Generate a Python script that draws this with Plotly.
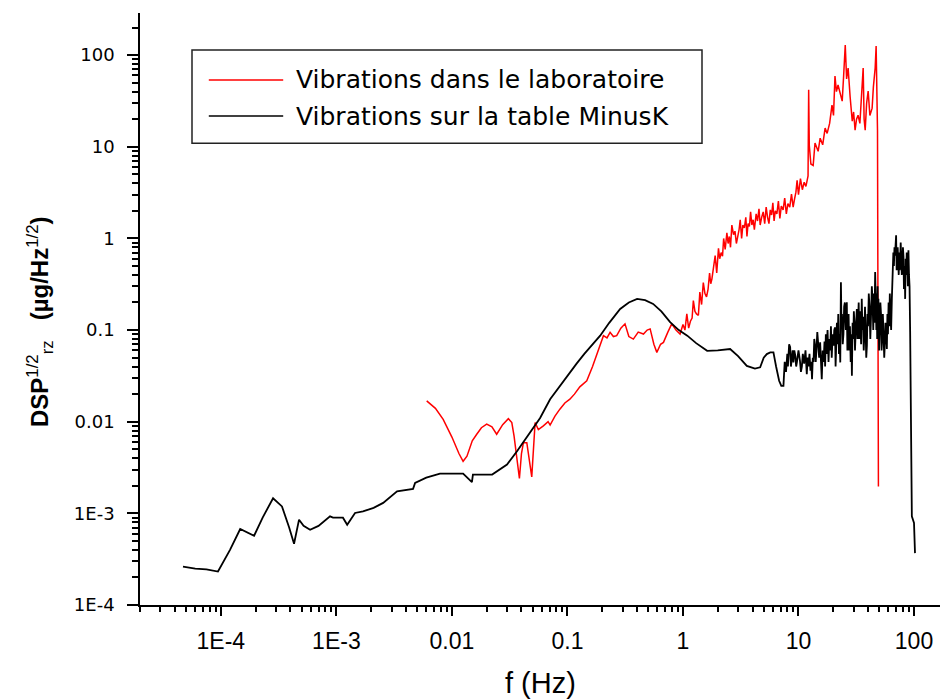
import plotly.graph_objects as go

# Rz acceleration spectral density measured on the laboratory floor
lab_freq = [
    0.00605, 0.0072, 0.0084, 0.0100, 0.0115, 0.0125, 0.0135, 0.0150, 0.0164, 0.0180,
    0.0200, 0.0222, 0.0244, 0.0275, 0.0308, 0.0330, 0.0345, 0.0365, 0.0384, 0.0400,
    0.0416, 0.0445, 0.0470, 0.0491, 0.0525, 0.0560, 0.0619, 0.0680, 0.0708, 0.078,
    0.086, 0.095, 0.105, 0.115, 0.128, 0.147, 0.165, 0.185, 0.205, 0.220,
    0.234, 0.250, 0.267, 0.290, 0.315, 0.340, 0.372, 0.410, 0.455, 0.490,
    0.520, 0.560, 0.594, 0.640, 0.678, 0.740, 0.800, 0.870, 0.944,
    1.00, 1.04, 1.08, 1.12, 1.16, 1.20, 1.23, 1.27, 1.31, 1.36,
    1.40, 1.45, 1.50, 1.55, 1.60, 1.65, 1.70, 1.74, 1.78, 1.84,
    1.90, 1.96, 2.03, 2.08, 2.14, 2.20, 2.25, 2.32, 2.40, 2.46,
    2.52, 2.58, 2.65, 2.74, 2.82, 2.90, 2.98, 3.06, 3.13, 3.22,
    3.30, 3.40, 3.50, 3.58, 3.66, 3.76, 3.85, 3.95, 4.05, 4.15,
    4.30, 4.42, 4.55, 4.66, 4.80, 4.95, 5.10, 5.25, 5.40, 5.55,
    5.70, 5.85, 6.00, 6.15, 6.30, 6.50, 6.70, 6.90, 7.10, 7.36,
    7.60, 7.85, 8.10, 8.40, 8.70, 8.99, 9.25, 9.50, 9.73, 10.0,
    10.4, 10.8, 11.2, 11.6, 12.1, 12.25, 12.4, 12.8, 13.4, 13.9,
    14.8, 15.4, 16.2, 17.0, 17.7, 18.6, 19.5, 20.1, 20.7, 21.3,
    22.0, 22.9, 23.9, 24.6, 25.4, 26.1, 26.9, 28.0, 29.2, 30.0,
    30.9, 31.8, 32.8, 34.0, 35.0, 36.3, 37.0, 37.8, 38.9, 40.1,
    41.5, 43.4, 44.5, 46.1, 47.0, 47.6, 48.3, 49.2,
]
lab_dsp = [
    0.0169, 0.0140, 0.0106, 0.0068, 0.0045, 0.0037, 0.0042, 0.0062, 0.0073, 0.0086,
    0.0094, 0.0088, 0.0073, 0.0093, 0.0108, 0.0098, 0.0070, 0.0040, 0.0024, 0.0045,
    0.0059, 0.0059, 0.0035, 0.0025, 0.0098, 0.0082, 0.0090, 0.0100, 0.0092, 0.0115,
    0.0137, 0.0160, 0.0176, 0.0200, 0.0240, 0.0279, 0.0400, 0.0600, 0.0869, 0.0820,
    0.0946, 0.0850, 0.0869, 0.1050, 0.1170, 0.0850, 0.0798, 0.0950, 0.0906, 0.1000,
    0.1030, 0.0700, 0.0571, 0.0700, 0.0734, 0.0950, 0.1170, 0.1000, 0.0906,
    0.115, 0.100, 0.150, 0.105, 0.125, 0.135, 0.210, 0.160, 0.150, 0.145,
    0.260, 0.190, 0.330, 0.250, 0.230, 0.280, 0.420, 0.320, 0.360, 0.520,
    0.650, 0.420, 0.780, 0.600, 0.700, 0.640, 1.00, 0.760, 1.15, 0.880,
    1.05, 0.800, 1.40, 1.10, 1.20, 0.880, 1.05, 1.25, 1.60, 1.00,
    1.40, 1.30, 1.70, 1.05, 1.45, 1.35, 1.95, 1.40, 1.60, 1.25,
    1.85, 1.55, 2.10, 1.40, 1.70, 1.95, 1.45, 2.20, 1.70, 1.45,
    2.05, 1.80, 2.45, 1.55, 2.00, 1.85, 2.55, 1.65, 2.25, 2.05,
    2.75, 1.85, 2.40, 2.20, 3.05, 2.20, 2.70, 3.20, 4.30, 3.00,
    4.50, 3.40, 4.10, 3.70, 4.80, 41.9, 10.4, 6.50, 6.27, 11.0,
    8.93, 12.4, 10.5, 16.0, 14.0, 18.0, 28.5, 22.0, 59.2, 40.0,
    47.2, 38.0, 31.5, 60.0, 129.0, 55.0, 72.4, 35.0, 19.0, 24.0,
    15.2, 20.0, 22.1, 18.0, 30.0, 72.4, 20.0, 15.2, 30.0, 40.5,
    22.0, 26.4, 45.0, 72.4, 126.0, 55.0, 15.2, 0.00196,
]

# Same measurement taken on the MinusK isolation table
table_freq = [
    4.70e-5, 6.0e-5, 7.5e-5, 9.44e-5, 1.2e-4, 1.47e-4, 1.94e-4, 2.3e-4, 2.83e-4, 3.38e-4,
    3.9e-4, 4.30e-4, 4.75e-4, 5.2e-4, 5.92e-4, 7.0e-4, 8.81e-4, 9.35e-4, 1.14e-3, 1.24e-3,
    1.45e-3, 1.70e-3, 2.1e-3, 2.54e-3, 3.35e-3, 4.61e-3, 4.80e-3, 6.0e-3, 7.88e-3, 0.0125,
    0.0149, 0.0152, 0.0223, 0.0300, 0.0366, 0.0475, 0.058, 0.0708, 0.085, 0.0993,
    0.12, 0.14, 0.165, 0.192, 0.23, 0.286, 0.34, 0.401, 0.47, 0.552,
    0.65, 0.774, 0.92, 1.09, 1.3, 1.62, 2.0, 2.56, 3.0, 3.57,
    4.2, 4.66, 5.0, 5.32, 5.7, 6.07, 6.4, 6.8, 7.1,
    7.41, 7.6, 7.8, 8.0, 8.1, 8.3, 8.47, 8.6, 8.7, 8.9,
    9.04, 9.2, 9.4, 9.55, 9.7, 10.0, 10.3, 10.5, 10.7, 10.9,
    11.2, 11.5, 11.8, 12.0, 12.2, 12.45, 12.7, 12.9, 13.1, 13.3,
    13.5, 13.7, 13.9, 14.1, 14.3, 14.55, 14.8, 15.1, 15.4, 15.6,
    15.9, 16.2, 16.5, 16.8, 17.0, 17.25, 17.5, 17.85, 18.2, 18.5,
    18.8, 19.1, 19.4, 19.75, 20.1, 20.4, 20.7, 20.95, 21.2, 21.5,
    21.8, 22.1, 22.4, 22.7, 23.0, 23.3, 23.55, 23.8, 24.15, 24.5,
    24.85, 25.2, 25.7, 26.2, 26.5, 26.8, 27.15, 27.5, 27.9, 28.3,
    28.65, 29.0, 29.4, 29.8, 30.15, 30.5, 30.85, 31.2, 31.6, 32.0,
    32.4, 32.8, 33.2, 33.6, 34.0, 34.4, 34.85, 35.3, 35.75, 36.2,
    36.7, 37.2, 37.65, 38.1, 38.6, 39.1, 39.55, 40.0, 40.6, 41.2,
    41.85, 42.5, 43.15, 43.8, 44.4, 45.0, 45.5, 46.1, 46.45, 46.8,
    47.2, 47.6, 48.0, 48.4, 48.8, 49.2, 49.85, 50.5, 51.15, 51.8,
    52.4, 53.0, 53.75, 54.5, 55.25, 56.0, 56.6, 57.2, 57.7, 58.2,
    58.85, 59.5, 60.25, 61.0, 61.75, 62.5, 63.4, 64.3, 64.9, 65.5,
    66.25, 67.0, 67.75, 68.5, 69.25, 70.0, 70.75, 71.5, 72.25, 73.0,
    73.75, 74.5, 75.2, 75.9, 76.7, 77.5, 78.4, 79.3, 80.2, 81.1,
    81.8, 82.5, 83.15, 83.8, 84.65, 85.5, 86.5, 87.5, 88.5, 89.5,
    90.5, 91.5, 92.6, 95.8, 100.0, 102.0,
]
table_dsp = [
    2.62e-4, 2.50e-4, 2.45e-4, 2.32e-4, 4.0e-4, 6.75e-4, 5.70e-4, 9.0e-4, 1.46e-3, 1.19e-3,
    7.0e-4, 4.66e-4, 8.53e-4, 7.3e-4, 6.62e-4, 7.3e-4, 9.27e-4, 8.97e-4, 8.97e-4, 7.51e-4,
    1.01e-3, 1.05e-3, 1.15e-3, 1.30e-3, 1.74e-3, 1.85e-3, 2.15e-3, 2.45e-3, 2.72e-3, 2.72e-3,
    2.19e-3, 2.65e-3, 2.65e-3, 3.41e-3, 4.77e-3, 7.60e-3, 0.0110, 0.0176, 0.0240, 0.0317,
    0.043, 0.055, 0.070, 0.0869, 0.120, 0.170, 0.200, 0.219, 0.212, 0.193,
    0.160, 0.122, 0.100, 0.0869, 0.072, 0.0594, 0.060, 0.0621, 0.052, 0.0407,
    0.038, 0.0392, 0.050, 0.0547, 0.057, 0.0571, 0.040, 0.028, 0.0246,
    0.0246, 0.045, 0.035, 0.055, 0.040, 0.070, 0.0649, 0.040, 0.048, 0.060,
    0.0444, 0.060, 0.052, 0.040, 0.045, 0.060, 0.0462, 0.035, 0.040, 0.055,
    0.043, 0.060, 0.0330, 0.050, 0.040, 0.055, 0.036, 0.045, 0.0291, 0.050,
    0.045, 0.080, 0.0675, 0.045, 0.060, 0.095, 0.072, 0.050, 0.0734, 0.040,
    0.0291, 0.060, 0.045, 0.075, 0.040, 0.090, 0.055, 0.100, 0.045, 0.080,
    0.060, 0.110, 0.050, 0.090, 0.0675, 0.100, 0.107, 0.040, 0.060, 0.120,
    0.070, 0.150, 0.055, 0.090, 0.0444, 0.333, 0.120, 0.150, 0.070, 0.090,
    0.180, 0.200, 0.100, 0.201, 0.060, 0.100, 0.150, 0.060, 0.110, 0.045,
    0.090, 0.0317, 0.120, 0.080, 0.160, 0.120, 0.060, 0.090, 0.150, 0.170,
    0.080, 0.110, 0.200, 0.080, 0.160, 0.130, 0.070, 0.219, 0.100, 0.140,
    0.060, 0.090, 0.180, 0.100, 0.050, 0.0675, 0.150, 0.110, 0.250, 0.180,
    0.080, 0.150, 0.300, 0.200, 0.100, 0.250, 0.120, 0.430, 0.150, 0.350,
    0.100, 0.250, 0.080, 0.300, 0.120, 0.219, 0.060, 0.110, 0.200, 0.150,
    0.060, 0.080, 0.150, 0.100, 0.050, 0.075, 0.120, 0.070, 0.090, 0.0621,
    0.150, 0.090, 0.200, 0.110, 0.250, 0.150, 0.100, 0.219, 0.400, 0.300,
    0.700, 0.500, 0.800, 0.650, 0.900, 1.08, 0.450, 0.600, 0.800, 0.550,
    0.400, 0.700, 0.450, 0.553, 0.900, 0.650, 0.400, 0.500, 0.800, 0.627,
    0.280, 0.350, 0.500, 0.219, 0.600, 0.400, 0.700, 0.550, 0.300, 0.741,
    0.400, 0.300, 0.0946, 9.27e-4, 7.85e-4, 3.68e-4,
]

decade_vals = [1e-4, 1e-3, 0.01, 0.1, 1, 10, 100]
x_tick_text = ["1E-4", "1E-3", "0.01", "0.1", "1", "10", "100"]
y_tick_text = ["1E-4", "1E-3", "0.01", "0.1", "1", "10", "100"]
minor_vals = [m * 10.0 ** e for e in range(-5, 3) for m in range(2, 10)]

series_names = ["Vibrations dans le laboratoire", "Vibrations sur la table MinusK"]
series_colors = ["#ff0000", "#000000"]

fig = go.Figure()
fig.add_trace(go.Scatter(x=lab_freq, y=lab_dsp, mode="lines", name=series_names[0],
                         line=dict(color=series_colors[0], width=1.5), showlegend=False))
fig.add_trace(go.Scatter(x=table_freq, y=table_dsp, mode="lines", name=series_names[1],
                         line=dict(color=series_colors[1], width=1.8), showlegend=False))

axis_common = dict(
    type="log", showline=True, linecolor="black", linewidth=1.5,
    ticks="outside", tickcolor="black", tickwidth=1.5,
    showgrid=False, zeroline=False, mirror=False,
    tickmode="array", tickvals=decade_vals,
)

fig.update_xaxes(
    **axis_common, range=[-4.70, 2.225], ticktext=x_tick_text, ticklen=9,
    ticklabelstandoff=6,
    tickfont=dict(family="Liberation Sans, Arial, sans-serif", size=23, color="black"),
    minor=dict(tickmode="array", tickvals=minor_vals, ticks="outside", ticklen=5,
               tickwidth=1.5, tickcolor="black", showgrid=False),
)
fig.update_yaxes(
    **axis_common, range=[-4.0, 2.46], ticktext=y_tick_text, ticklen=11,
    ticklabelstandoff=9,
    tickfont=dict(family="DejaVu Sans, sans-serif", size=18, color="black"),
    minor=dict(tickmode="array", tickvals=minor_vals, ticks="outside", ticklen=6,
               tickwidth=1.5, tickcolor="black", showgrid=False),
)

# Framed legend with long line samples
legend_x0, legend_x1 = 0.065, 0.7025
legend_y0, legend_y1 = 0.780, 0.9375
sample_x0, sample_x1 = 0.086, 0.179
row_y = [0.887, 0.826]
text_x = 0.192

shapes = [dict(type="rect", xref="paper", yref="paper",
               x0=legend_x0, x1=legend_x1, y0=legend_y0, y1=legend_y1,
               line=dict(color="#222222", width=1.5), fillcolor="white", layer="above")]
annotations = []
for name, color, yy in zip(series_names, series_colors, row_y):
    shapes.append(dict(type="line", xref="paper", yref="paper",
                       x0=sample_x0, x1=sample_x1, y0=yy, y1=yy,
                       line=dict(color=color, width=1.5), layer="above"))
    annotations.append(dict(xref="paper", yref="paper", x=text_x, y=yy,
                            xanchor="left", yanchor="middle", showarrow=False,
                            text=name,
                            font=dict(family="DejaVu Sans, sans-serif", size=25, color="black")))

annotations.append(dict(
    xref="paper", yref="paper", x=0.501, y=-0.132, xanchor="center", yanchor="middle",
    showarrow=False, text="f (Hz)",
    font=dict(family="Liberation Sans, Arial, sans-serif", size=29, color="black")))
annotations.append(dict(
    xref="paper", yref="paper", x=-0.125, y=0.478, xanchor="center", yanchor="middle",
    showarrow=False, textangle=-90,
    text="<b>DSP</b><sup>1/2</sup><sub>rz</sub>&nbsp;&nbsp;&nbsp;<b>(µg/Hz</b><sup>1/2</sup><b>)</b>",
    font=dict(family="Liberation Sans, Arial, sans-serif", size=24, color="black")))

fig.update_layout(
    width=940, height=700,
    margin=dict(l=140, r=0, t=13, b=95, pad=0),
    paper_bgcolor="white", plot_bgcolor="white",
    shapes=shapes, annotations=annotations,
    showlegend=False,
)

fig.write_html("out.html")
